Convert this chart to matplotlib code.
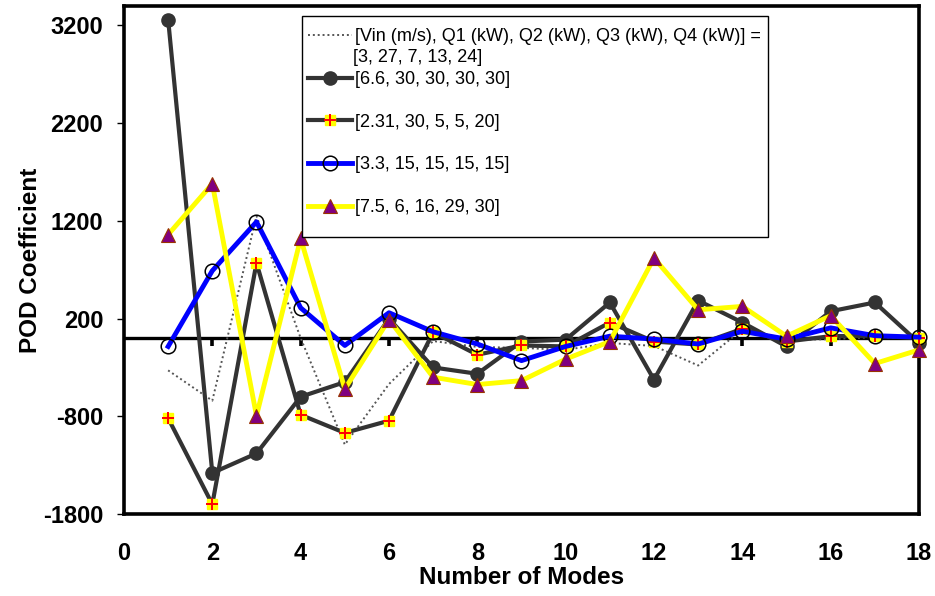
import numpy as np
import matplotlib.pyplot as plt
from matplotlib.legend_handler import HandlerTuple
from matplotlib.patches import Rectangle

plt.rcParams['font.family'] = ['Liberation Sans', 'DejaVu Sans']

# number of POD modes
modes = np.arange(1, 19)

# POD coefficients for each inflow case
case_3_27 = [-330, -640, 1250, 0, -1090, -470, -30, -90, -100, -120, -50, -80, -280, 90, -20, -10, 10, 0]
case_66_30 = [3260, -1380, -1180, -600, -450, 200, -300, -365, -35, -15, 365, -425, 385, 160, -85, 275, 365, -50]
case_231_30 = [-820, -1700, 770, -785, -970, -845, 60, -170, -75, -85, 160, -35, -65, 95, -35, 20, 25, 0]
case_33_15 = [-85, 690, 1190, 310, -75, 260, 65, -60, -230, -85, 20, -10, -60, 70, -10, 105, 25, 10]
case_75_6 = [1060, 1580, -795, 1020, -520, 190, -400, -475, -435, -215, -35, 820, 290, 325, 20, 230, -260, -120]

labels = ['[Vin (m/s), Q1 (kW), Q2 (kW), Q3 (kW), Q4 (kW)] =',
          '[6.6, 30, 30, 30, 30]',
          '[2.31, 30, 5, 5, 20]',
          '[3.3, 15, 15, 15, 15]',
          '[7.5, 6, 16, 29, 30]']
first_label_2nd_line = '[3, 27, 7, 13, 24]'

yticks = np.arange(-1800, 3201, 1000)
xticks = np.arange(0, 19, 2)

fig = plt.figure(figsize=(9.35, 5.96), dpi=100)
ax = fig.add_axes([0.1326, 0.1376, 0.8503, 0.8524])

# zero line with little tick marks hanging below it
ax.axhline(0, color='black', lw=2.4, zorder=1)
ax.plot(xticks[1:-1], np.zeros(len(xticks) - 2), ls='none', marker=3, ms=6,
        mew=2.6, color='black', zorder=1)

l_e, = ax.plot(modes, case_3_27, ls=(0, (1, 1.5)), lw=1.4, color='#555555', zorder=2)
l_a, = ax.plot(modes, case_66_30, '-o', color='#333333', lw=3, ms=9.5, zorder=3, clip_on=False)
l_b, = ax.plot(modes, case_231_30, '-s', color='#333333', lw=3, ms=7.5, mfc='#FFFF00',
               mec='#FFFF00', zorder=4, clip_on=False)
l_b2, = ax.plot(modes, case_231_30, ls='none', marker='+', ms=8, mew=1.4, color='#FF0000',
                zorder=4, clip_on=False)
l_c, = ax.plot(modes, case_33_15, '-o', color='#0000FF', lw=3.5, ms=10.5, mfc='none',
               mec='black', mew=1.1, zorder=5, clip_on=False)
l_d, = ax.plot(modes, case_75_6, '-^', color='#FFFF00', lw=3.5, ms=10, mfc='#800080',
               mec='#993300', mew=0.8, zorder=6, clip_on=False)

ax.set_xlim(0, 18)
ax.set_ylim(-1800, 3400)
ax.set_yticks(yticks)
ax.set_yticklabels([str(v) for v in yticks], fontsize=17, fontweight='bold')
ax.set_xticks(xticks)
ax.set_xticklabels([str(v) for v in xticks], fontsize=17, fontweight='bold')
ax.tick_params(axis='x', length=0, pad=20)
ax.tick_params(axis='y', direction='out', length=5, width=1, pad=10)
for s in ax.spines.values():
    s.set_linewidth(2.6)
    s.set_color('black')

ax.set_xlabel('Number of Modes', fontsize=17.5, fontweight='bold', labelpad=1)
ax.set_ylabel('POD Coefficient', fontsize=17.5, fontweight='bold', labelpad=0.5)

# legend box (Excel style: extra room below the last entry)
fig.patches.append(Rectangle((302 / 935, 1 - 237 / 596), 466 / 935, 221 / 596,
                             transform=fig.transFigure, facecolor='white',
                             edgecolor='black', lw=1, zorder=4))
leg = fig.legend([l_e, l_a, (l_b, l_b2), l_c, l_d], labels,
                 handler_map={tuple: HandlerTuple(ndivide=1)},
                 loc='upper left', bbox_to_anchor=(0.323, 0.963),
                 fontsize=13, frameon=False, borderpad=0.35, handlelength=2.4,
                 handletextpad=0.2, labelspacing=1.42, borderaxespad=0)
leg.set_zorder(5)
fig.text(353 / 935, 1 - 57 / 596, first_label_2nd_line, fontsize=13, va='center',
         ha='left', zorder=10)

fig.savefig('out.png', dpi=100)
